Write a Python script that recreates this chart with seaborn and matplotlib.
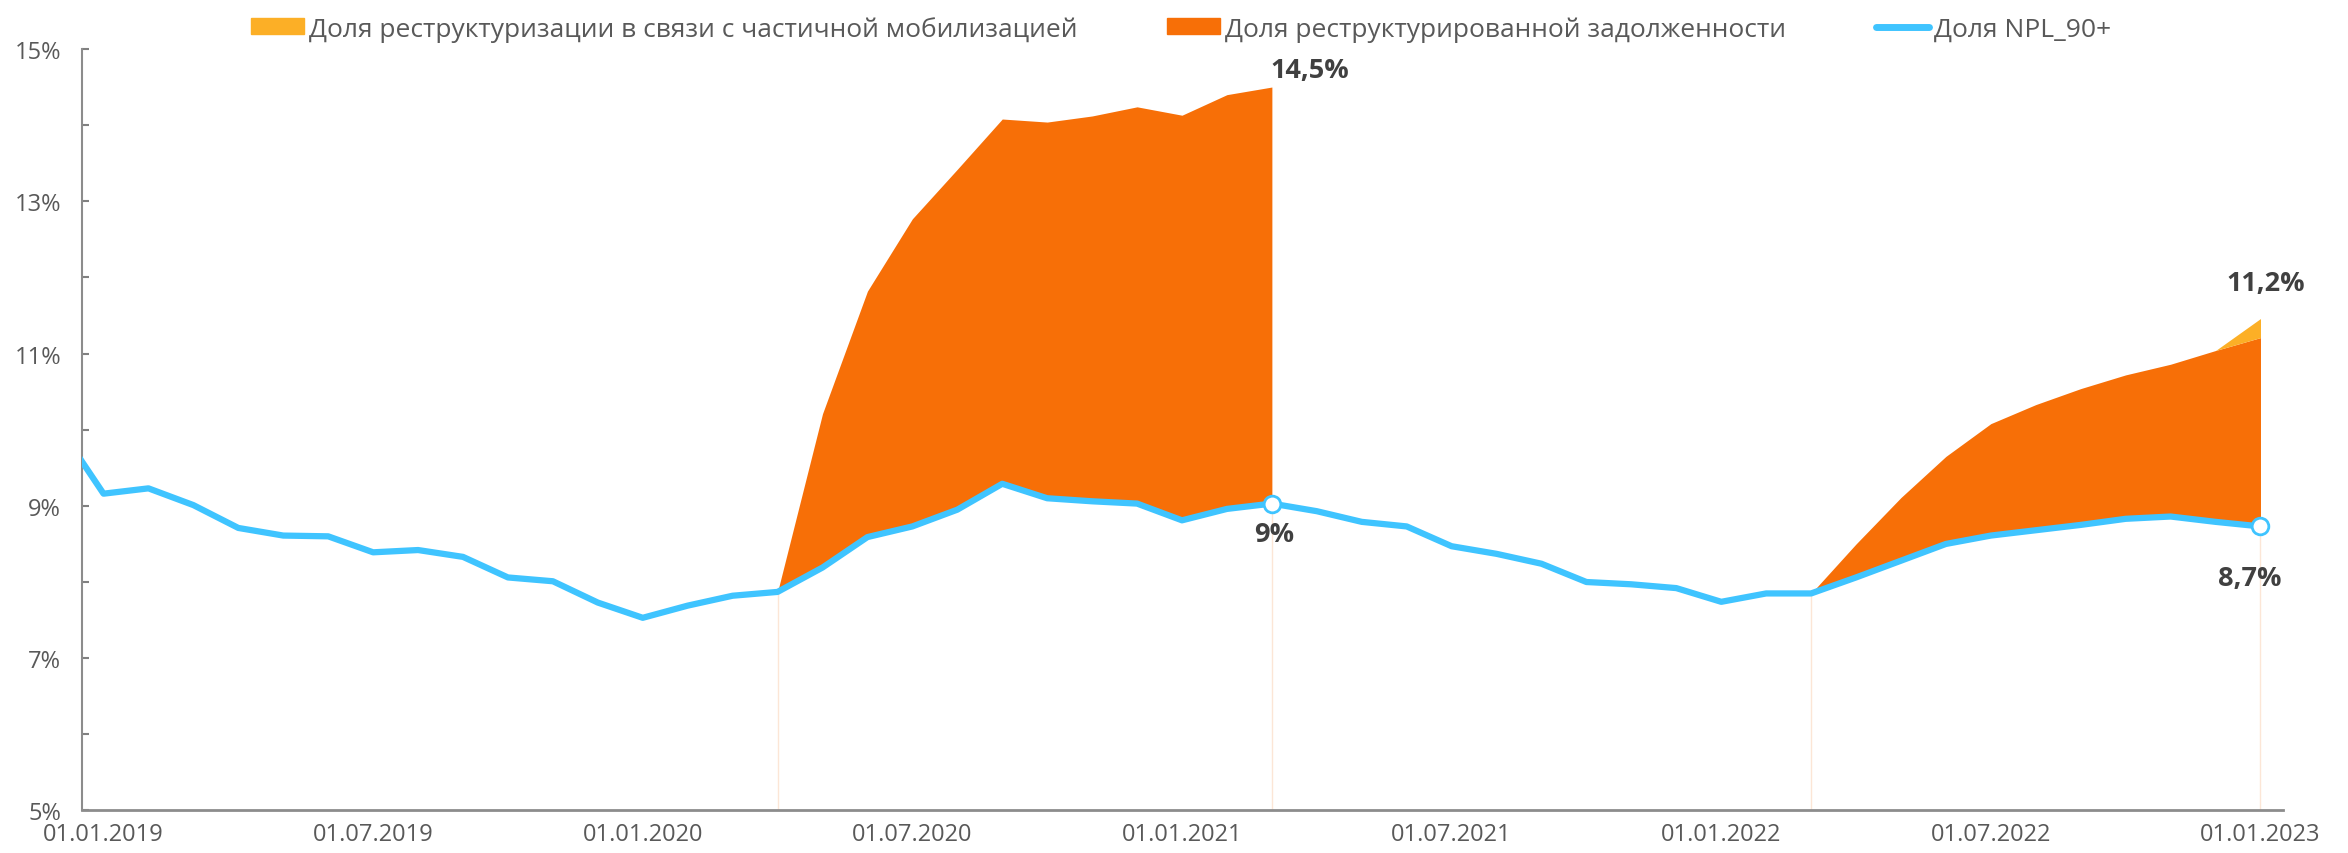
import pandas as pd
import numpy as np
import matplotlib
matplotlib.use('Agg')
import matplotlib.pyplot as plt
import seaborn as sns
from matplotlib.patches import Patch
from matplotlib.lines import Line2D

# Данные (помесячно, с 01.12.2018 по 01.01.2023; первая точка обрезана осью)
months = pd.date_range('2018-12-01', '2023-01-01', freq='MS')
npl = [10.04,
       9.16, 9.23, 9.01, 8.71, 8.61, 8.60, 8.39, 8.42, 8.33, 8.06, 8.01, 7.73,
       7.53, 7.69, 7.82, 7.87, 8.19, 8.59, 8.73, 8.95, 9.29, 9.10, 9.06, 9.03,
       8.81, 8.96, 9.03, 8.93, 8.79, 8.73, 8.47, 8.37, 8.24, 8.00, 7.97, 7.92,
       7.74, 7.85, 7.85, 8.06, 8.28, 8.50, 8.61, 8.68, 8.75, 8.83, 8.86, 8.79,
       8.73]

# верхняя граница "реструктурированной задолженности" (NPL + реструктуризация)
restr_2020_start = '2020-04-01'
restr_2020 = [7.87, 10.21, 11.82, 12.77, 13.42, 14.08, 14.04, 14.12, 14.24, 14.13, 14.40, 14.50]
restr_2022_start = '2022-03-01'
restr_2022 = [7.85, 8.50, 9.11, 9.65, 10.08, 10.33, 10.54, 10.72, 10.86, 11.04, 11.21]
# верхняя граница с учётом частичной мобилизации
mobil_start = '2022-12-01'
mobil = [11.04, 11.46]

tick_labels = ['01.01.2019', '01.07.2019', '01.01.2020', '01.07.2020', '01.01.2021',
               '01.07.2021', '01.01.2022', '01.07.2022', '01.01.2023']

c_yellow = '#FCAF26'
c_orange = '#F76F07'
c_blue = '#3FC4FF'
c_text = '#595959'
c_label = '#404040'

# Таблица
df = pd.DataFrame({'month': months, 'npl': npl})
df['pos'] = np.arange(len(df)) - 1   # 01.01.2019 -> 0

def block(start, vals):
    i0 = df.index[df['month'] == pd.Timestamp(start)][0]
    part = df.iloc[i0:i0 + len(vals)].copy()
    part['top'] = vals
    return part

r20 = block(restr_2020_start, restr_2020)
r22 = block(restr_2022_start, restr_2022)
mb = block(mobil_start, mobil)

sns.set_theme(style='white')
plt.rcParams['font.family'] = ['Open Sans', 'DejaVu Sans']

fig = plt.figure(figsize=(23.48, 8.54), dpi=100)
ax = fig.add_axes([0.0349, 0.0498, 0.9374, 0.8917])

# Области
for part in [r20, r22]:
    ax.fill_between(part['pos'], part['npl'], part['top'], color=c_orange, lw=0, zorder=2)
r22_tail = r22[r22['month'] >= pd.Timestamp(mobil_start)]
ax.fill_between(mb['pos'], r22_tail['top'].values, mb['top'], color=c_yellow, lw=0, zorder=2)

# тонкие границы областей
for part in [r20, r22]:
    for i in [part.index[0], part.index[-1]]:
        ax.vlines(df.loc[i, 'pos'], 5, df.loc[i, 'npl'], color='#FCE6D6', lw=1, zorder=1)

# Линия NPL
sns.lineplot(data=df, x='pos', y='npl', color=c_blue, lw=4.5, ax=ax, zorder=4)

# маркеры и подписи
pt1 = r20.iloc[-1]
pt2 = r22.iloc[-1]
for p in [pt1, pt2]:
    ax.plot(p['pos'], p['npl'], 'o', ms=12, mfc='white', mec=c_blue, mew=2, zorder=5)

lab = dict(color=c_label, fontsize=19.5, fontweight='bold', textcoords='offset points')
ax.annotate(f"{pt1['top']:.1f}%".replace('.', ','), (pt1['pos'], pt1['top']),
            xytext=(-1, 12), ha='left', va='center', **lab)
ax.annotate(f"{pt1['npl']:.0f}%", (pt1['pos'], pt1['npl']),
            xytext=(2, -22), ha='center', va='center', **lab)
ax.annotate(f"{pt2['top']:.1f}%".replace('.', ','), (pt2['pos'], pt2['top']),
            xytext=(4, 39), ha='center', va='center', **lab)
ax.annotate(f"{pt2['npl']:.1f}%".replace('.', ','), (pt2['pos'], pt2['npl']),
            xytext=(-8, -37), ha='center', va='center', **lab)

# Оси
ax.set_xlim(-0.48, 48.5)
ax.set_ylim(5, 15)
ax.set_xticks(df['pos'][1::6])
ax.set_xticklabels(tick_labels)
ax.set_yticks(np.arange(5, 16, 2))
ax.set_yticklabels([f'{v}%' for v in range(5, 16, 2)])
ax.set_yticks(np.arange(5, 16, 1), minor=True)
ax.tick_params(axis='x', length=0, labelsize=17, labelcolor=c_text, pad=8)
ax.tick_params(axis='y', which='both', direction='in', length=5, width=1.5,
               color='#808080', labelsize=17, labelcolor=c_text, left=True, pad=15)
ax.set_xlabel('')
ax.set_ylabel('')
for s in ['top', 'right']:
    ax.spines[s].set_visible(False)
ax.spines['left'].set_color('#8C8C8C')
ax.spines['left'].set_linewidth(1.5)
ax.spines['bottom'].set_color('#8C8C8C')
ax.spines['bottom'].set_linewidth(2)
ax.grid(False)

handles = [Patch(color=c_yellow), Patch(color=c_orange), Line2D([], [], color=c_blue, lw=5)]
labels = ['Доля реструктуризации в связи с частичной мобилизацией',
          'Доля реструктурированной задолженности', 'Доля NPL_90+']
fig.legend(handles, labels, loc='upper center', bbox_to_anchor=(0.503, 1.008), ncol=3,
           frameon=False, fontsize=19, labelcolor=c_text, handlelength=2.0,
           handleheight=0.55, handletextpad=0.2, columnspacing=3.4)

fig.savefig('out.png', dpi=100, facecolor='white')
